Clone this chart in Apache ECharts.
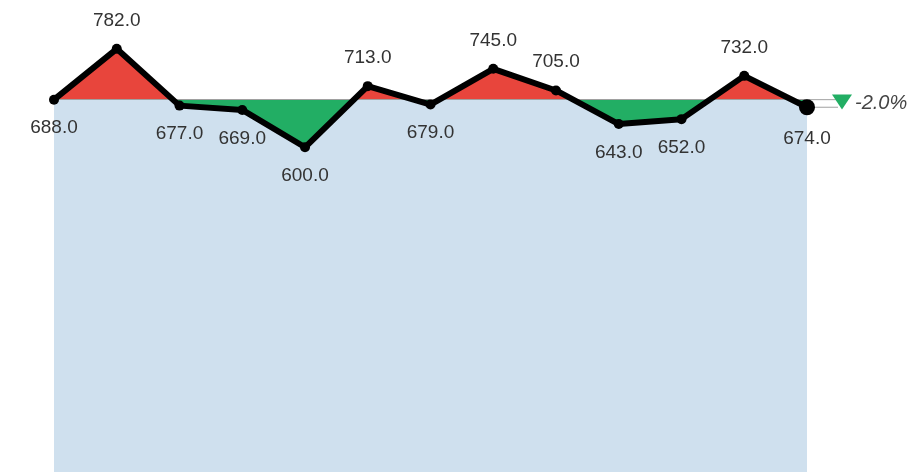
<!DOCTYPE html>
<html>
<head>
<meta charset="utf-8">
<script src="https://cdn.jsdelivr.net/npm/echarts@6/dist/echarts.min.js"></script>
<style>html,body{margin:0;padding:0;background:#fff;}#c{width:913px;height:472px;}</style>
</head>
<body>
<div id="c"></div>
<script>
const categories = ['1','2','3','4','5','6','7','8','9','10','11','12','13'];
const values = [688, 782, 677, 669, 600, 713, 679, 745, 705, 643, 652, 732, 674];
const baseline = values[0];
const changeLabel = '-2.0%';

const RED = '#e8453c', GREEN = '#22ae64', BLUE = '#cfe0ee';
const lastIdx = values.length - 1;

const lineData = values.map((v, i) => ({
  value: v,
  symbolSize: i === lastIdx ? 16 : 10,
  label: { position: v > baseline ? 'top' : 'bottom' }
}));

const chart = echarts.init(document.getElementById('c'), null, { renderer: 'canvas' });
chart.setOption({
  animation: false,
  backgroundColor: '#fff',
  grid: { left: 54, right: 106, top: 12, height: 462 },
  xAxis: { type: 'category', data: categories, boundaryGap: false, show: false },
  yAxis: { type: 'value', min: 0, max: 850, show: false, splitLine: { show: false } }
});

const pBase = chart.convertToPixel({ gridIndex: 0 }, [lastIdx, baseline]);
const pLast = chart.convertToPixel({ gridIndex: 0 }, [lastIdx, values[lastIdx]]);
const H = chart.getHeight();
const f = pBase[1] / H;
const fillGrad = {
  type: 'linear', x: 0, y: 0, x2: 0, y2: H, global: true,
  colorStops: [
    { offset: 0, color: RED }, { offset: f, color: RED },
    { offset: f, color: GREEN }, { offset: 1, color: GREEN }
  ]
};

const endX = pBase[0] + 31;
const midY = (pBase[1] + pLast[1]) / 2;

chart.setOption({
  series: [
    {
      type: 'line', data: values, symbol: 'none', silent: true, z: 2,
      lineStyle: { width: 0 },
      areaStyle: { origin: baseline, opacity: 1, color: fillGrad },
      markArea: {
        silent: true,
        itemStyle: { color: BLUE },
        data: [[{ yAxis: 0 }, { yAxis: baseline }]]
      },
      markLine: {
        silent: true, symbol: 'none', label: { show: false },
        lineStyle: { color: '#a0a0a0', width: 1, type: 'solid' },
        data: [{ yAxis: baseline }]
      }
    },
    {
      type: 'line', data: lineData, z: 5,
      symbol: 'circle',
      itemStyle: { color: '#000' },
      lineStyle: { color: '#000', width: 6 },
      label: {
        show: true, distance: 14,
        fontFamily: 'Liberation Sans', fontSize: 19, color: '#333',
        formatter: p => p.value.toFixed(1)
      }
    }
  ],
  graphic: [
    { type: 'line', z: 1, shape: { x1: pBase[0], y1: pBase[1], x2: endX, y2: pBase[1] }, style: { stroke: '#a0a0a0', lineWidth: 1 } },
    { type: 'line', z: 1, shape: { x1: pLast[0], y1: pLast[1], x2: endX, y2: pLast[1] }, style: { stroke: '#a0a0a0', lineWidth: 1 } },
    { type: 'polygon', z: 10, shape: { points: [[endX - 6, midY - 9], [endX + 14, midY - 9], [endX + 4, midY + 6]] }, style: { fill: GREEN } },
    { type: 'text', z: 10, x: endX + 17, y: midY, style: { text: changeLabel, fontFamily: 'Liberation Sans', fontStyle: 'italic', fontSize: 20, fill: '#444', verticalAlign: 'middle', align: 'left' } }
  ]
});
</script>
</body>
</html>
